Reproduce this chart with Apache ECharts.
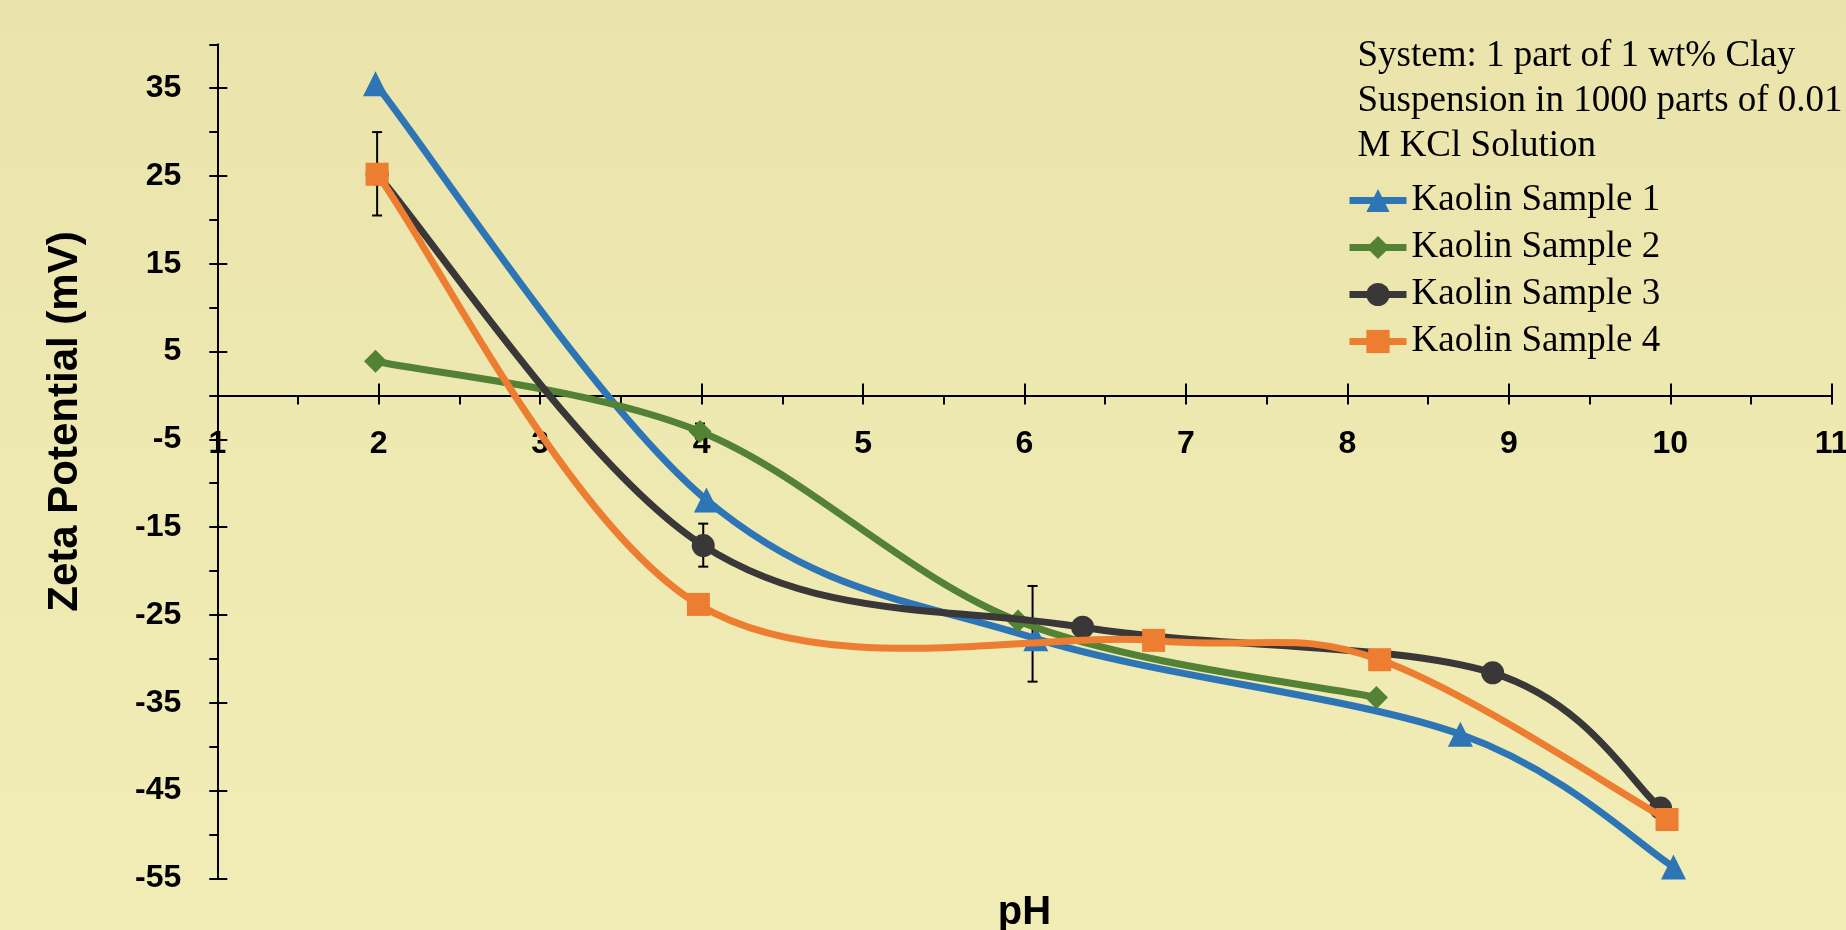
<!DOCTYPE html>
<html>
<head>
<meta charset="utf-8">
<script src="https://cdn.jsdelivr.net/npm/echarts@6/dist/echarts.min.js"></script>
<style>
html,body{margin:0;padding:0;}
#chart{width:1846px;height:930px;}
</style>
</head>
<body>
<div id="chart"></div>
<script>
// ---- data ----
const seriesNames = ['Kaolin Sample 1', 'Kaolin Sample 2', 'Kaolin Sample 3', 'Kaolin Sample 4'];
const sample1 = [[1.98, 35.5], [4.03, -11.9], [6.07, -27.7], [8.70, -38.6], [10.02, -53.7]];
const sample2 = [[1.98, 3.9], [3.99, -4.1], [5.96, -25.7], [8.18, -34.4]];
const sample3 = [[1.99, 25.2], [4.01, -17.1], [6.36, -26.4], [8.90, -31.6], [9.94, -47.0]];
const sample4 = [[1.99, 25.2], [3.98, -23.8], [6.80, -27.9], [8.20, -30.1], [9.98, -48.3]];
// [pH, low, high]
const errorBars = [[1.99, 20.5, 30.0], [4.01, -19.5, -14.6], [3.99, -4.9, -3.2], [6.05, -32.6, -21.7]];

const xLabelValues = [1, 2, 3, 4, 5, 6, 7, 8, 9, 10, 11];
const xMinorTicks = [1, 1.5, 2, 2.5, 3, 3.5, 4, 4.5, 5, 5.5, 6, 6.5, 7, 7.5, 8, 8.5, 9, 9.5, 10, 10.5, 11];
const yLabelValues = [-55, -45, -35, -25, -15, -5, 5, 15, 25, 35];
const yMinorTicks = [-55, -50, -45, -40, -35, -30, -25, -20, -15, -10, -5, 0, 5, 10, 15, 20, 25, 30, 35, 40];
const captionLines = ['System: 1 part of 1 wt% Clay', 'Suspension in 1000 parts of 0.01', 'M KCl Solution'];
const xTitle = 'pH';
const yTitle = 'Zeta Potential (mV)';

// ---- styling ----
const colors = ['#2E75B6', '#548235', '#393737', '#ED7D31'];
const symbols = ['triangle', 'diamond', 'circle', 'rect'];
const symbolSizes = [25, 23, 23, 23];
const allData = [sample1, sample2, sample3, sample4];
const LINE_W = 7;

const GRID = {left: 217.3, right: 14.3, top: 44.3, bottom: 51.7};
const gridWidth = 1846 - GRID.left - GRID.right;
const zeroY = 396; // pixel row of the x axis (value 0)
const gridBottomY = 930 - GRID.bottom;
const tickFont = {fontFamily: 'Liberation Sans', fontWeight: 'bold', fontSize: 32, color: '#000'};
const axisLineStyle = {color: '#000', width: 2};

const chart = echarts.init(document.getElementById('chart'), null, {renderer: 'canvas'});

// Excel-like smoothed curve (Catmull-Rom style Bezier, computed in pixel space from api.coord)
function curveRenderer(color) {
  return function (params, api) {
    const i = params.dataIndexInside;
    const n = params.dataInsideLength;
    if (i >= n - 1) return null;
    const P = function (k) {
      k = Math.max(0, Math.min(n - 1, k));
      return api.coord([api.value(0, k), api.value(1, k)]);
    };
    const p0 = P(i - 1), p1 = P(i), p2 = P(i + 1), p3 = P(i + 2);
    const f = 1 / 6;
    return {
      type: 'bezierCurve',
      shape: {
        x1: p1[0], y1: p1[1],
        cpx1: p1[0] + (p2[0] - p0[0]) * f, cpy1: p1[1] + (p2[1] - p0[1]) * f,
        cpx2: p2[0] - (p3[0] - p1[0]) * f, cpy2: p2[1] - (p3[1] - p1[1]) * f,
        x2: p2[0], y2: p2[1]
      },
      style: {stroke: color, lineWidth: LINE_W, fill: null, lineCap: 'round', lineJoin: 'round'}
    };
  };
}

const curveSeries = seriesNames.map((name, i) => ({
  type: 'custom',
  name: name + ' curve',
  data: allData[i],
  encode: {x: 0, y: 1},
  z: 10 + 2 * i,
  silent: true,
  renderItem: curveRenderer(colors[i])
}));

const markerSeries = seriesNames.map((name, i) => ({
  name: name,
  type: 'line',
  data: allData[i],
  symbol: symbols[i],
  symbolSize: symbolSizes[i],
  showAllSymbol: true,
  lineStyle: {color: colors[i], width: LINE_W, opacity: 0},
  itemStyle: {color: colors[i], borderWidth: 0},
  emphasis: {disabled: true},
  z: 11 + 2 * i
}));

const errorSeries = {
  type: 'custom',
  name: 'errors',
  data: errorBars,
  encode: {x: 0, y: [1, 2]},
  z: 9,
  silent: true,
  renderItem: function (params, api) {
    const x = api.value(0);
    const lo = api.coord([x, api.value(1)]);
    const hi = api.coord([x, api.value(2)]);
    const half = 5;
    const st = {stroke: '#000', lineWidth: 2};
    return {
      type: 'group',
      children: [
        {type: 'line', shape: {x1: lo[0], y1: lo[1], x2: hi[0], y2: hi[1]}, style: st},
        {type: 'line', shape: {x1: lo[0] - half, y1: lo[1], x2: lo[0] + half, y2: lo[1]}, style: st},
        {type: 'line', shape: {x1: hi[0] - half, y1: hi[1], x2: hi[0] + half, y2: hi[1]}, style: st}
      ]
    };
  }
};

const option = {
  animation: false,
  backgroundColor: {
    type: 'linear', x: 0, y: 0, x2: 0, y2: 1,
    colorStops: [{offset: 0, color: '#EAE4AC'}, {offset: 1, color: '#F2ECB6'}]
  },
  grid: {left: GRID.left, right: GRID.right, top: GRID.top, bottom: GRID.bottom, containLabel: false, outerBoundsMode: 'none'},
  legend: {
    orient: 'vertical',
    left: 1346,
    top: 180.5,
    padding: 0,
    itemWidth: 57,
    itemHeight: 29,
    itemGap: 7,
    data: seriesNames,
    selectedMode: false,
    lineStyle: {width: LINE_W, opacity: 1},
    textStyle: {fontFamily: 'Liberation Serif', fontSize: 37, color: '#000', lineHeight: 40}
  },
  xAxis: [
    {
      type: 'value', min: 1, max: 11, interval: 1, position: 'bottom',
      axisLine: {show: true, onZero: true, lineStyle: axisLineStyle},
      axisTick: {show: true, inside: false, length: 9, lineStyle: axisLineStyle, customValues: xMinorTicks},
      axisLabel: Object.assign({show: true, margin: (zeroY + 32) - gridBottomY, customValues: xLabelValues}, tickFont),
      splitLine: {show: false}
    },
    {
      type: 'value', min: 1, max: 11, interval: 1, position: 'top',
      axisLine: {show: false, onZero: true},
      axisTick: {show: true, inside: false, length: 12, lineStyle: axisLineStyle, customValues: xLabelValues},
      axisLabel: {show: false},
      splitLine: {show: false}
    }
  ],
  yAxis: [
    {
      type: 'value', min: -55, max: 40, interval: 5, position: 'left',
      axisLine: {show: true, onZero: false, lineStyle: axisLineStyle},
      axisTick: {show: true, inside: false, length: 8, lineStyle: axisLineStyle, customValues: yMinorTicks},
      axisLabel: Object.assign({show: true, margin: 36, customValues: yLabelValues}, tickFont),
      splitLine: {show: false}
    },
    {
      type: 'value', min: -55, max: 40, interval: 5, position: 'right', offset: -gridWidth,
      axisLine: {show: false, onZero: false},
      axisTick: {show: true, inside: false, length: 10, lineStyle: axisLineStyle, customValues: yLabelValues},
      axisLabel: {show: false},
      splitLine: {show: false}
    }
  ],
  graphic: [
    {
      type: 'text', x: 65, y: 421.5, rotation: Math.PI / 2,
      style: {text: yTitle, font: 'bold 42px "Liberation Sans"', fill: '#000', align: 'center', verticalAlign: 'middle'}
    },
    {
      type: 'text', x: 1024.5, y: 913,
      style: {text: xTitle, font: 'bold 40px "Liberation Sans"', fill: '#000', align: 'center', verticalAlign: 'middle'}
    },
    {
      type: 'text', x: 1357.5, y: 34,
      style: {text: captionLines.join('\n'), font: '37px "Liberation Serif"', lineHeight: 45, fill: '#000', align: 'left', verticalAlign: 'top'}
    }
  ],
  series: [errorSeries].concat(curveSeries, markerSeries)
};

chart.setOption(option);
</script>
</body>
</html>
